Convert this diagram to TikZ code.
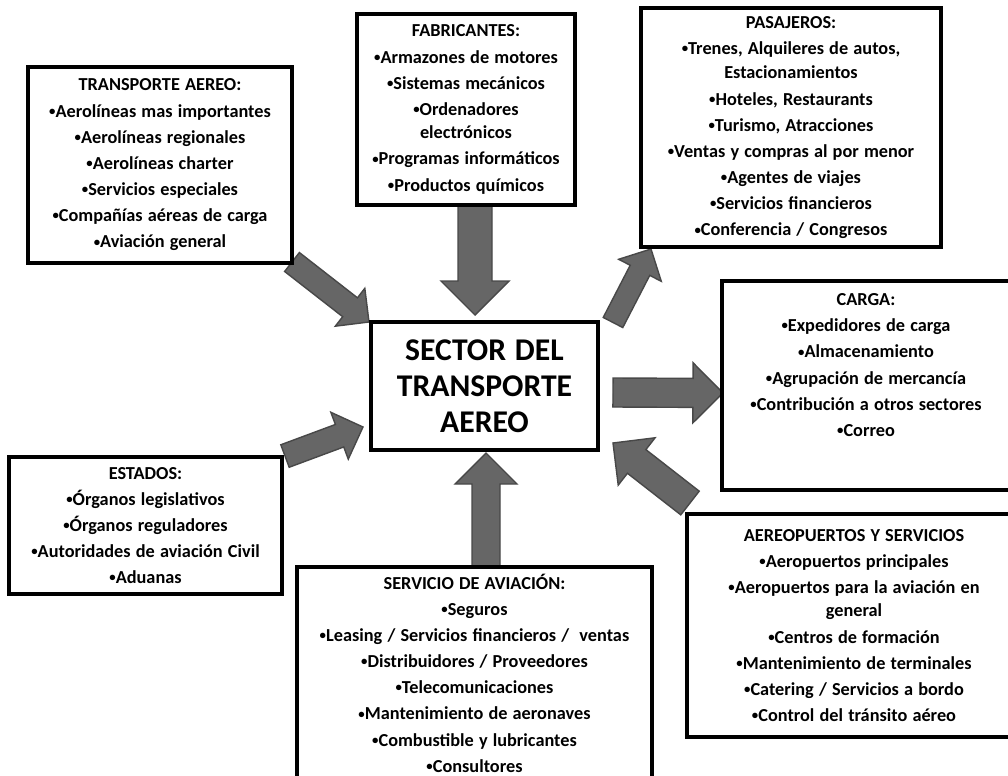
\documentclass[tikz,border=0pt]{standalone}
\usepackage{fontspec}
\usepackage{graphicx}
\setmainfont{Carlito}[WordSpace=1.25]
\usetikzlibrary{calc,backgrounds}
\definecolor{flechagris}{RGB}{102,102,102}
\definecolor{flechaborde}{RGB}{72,72,72}
\newcommand{\px}{0.025cm}
\newcommand{\bul}{\raisebox{0.2ex}{\scalebox{0.7}{\textbullet}}}
% block arrow: tail, tip, half shaft, half head (px)
\newcommand{\flecha}[4]{%
  \coordinate (hb) at ($(#2)!#4*\px!(#1)$);
  \draw[flecha] ($(#1)!#3*\px!90:(#2)$) -- ($(hb)!#3*\px!-90:(#1)$)
    -- ($(hb)!#4*\px!-90:(#1)$) -- (#2) -- ($(hb)!#4*\px!90:(#1)$)
    -- ($(hb)!#3*\px!90:(#1)$) -- ($(#1)!#3*\px!-90:(#2)$) -- cycle;}
\begin{document}
\begin{tikzpicture}[x=\px,y=-\px]
\tikzstyle{caja}=[draw,line width=2.3pt,fill=white,align=center,inner sep=0pt,
  font=\fontsize{13}{18.6}\selectfont\bfseries]
\tikzstyle{flecha}=[fill=flechagris,draw=flechaborde,line width=1pt]
\useasboundingbox (0,0) rectangle (1008,776);
\clip (0,0) rectangle (1008,776);
\node[caja,minimum width=6.6cm,minimum height=4.9cm] at (160,165) (tr)
  {TRANSPORTE AEREO:\\\bul Aerolíneas mas importantes\\\bul Aerolíneas regionales\\
   \bul Aerolíneas charter\\\bul Servicios especiales\\\bul Compañías aéreas de carga\\
   \bul Aviación general};
\node[caja,minimum width=5.45cm,minimum height=4.775cm] at (466,109.5) (fab)
  {FABRICANTES:\\\bul Armazones de motores\\\bul Sistemas mecánicos\\
   \bul Ordenadores\\[-2pt]electrónicos\\\bul Programas informáticos\\\bul Productos químicos};
\node[caja,minimum width=7.5cm,minimum height=5.975cm] at (791,127.5) (pas)
  {PASAJEROS:\\\bul Trenes, Alquileres de autos,\\[-1pt]Estacionamientos\\
   \bul Hoteles, Restaurants\\\bul Turismo, Atracciones\\\bul Ventas y compras al por menor\\
   \bul Agentes de viajes\\\bul Servicios financieros\\\bul Conferencia / Congresos};
\node[caja,minimum width=5.675cm,minimum height=3.2cm,
  font=\fontsize{22.5}{25.5}\selectfont\bfseries] at (484.5,386) (sector)
  {SECTOR DEL\\TRANSPORTE\\AEREO};
\node[caja,minimum width=7.2cm,minimum height=5.225cm] at (866,385.5) (carga) {};
\node[caja,draw=none,fill=none,anchor=north] at (866,292) (cargatxt)
  {CARGA:\\\bul Expedidores de carga\\\bul Almacenamiento\\\bul Agrupación de mercancía\\
   \bul Contribución a otros sectores\\\bul Correo};
\node[caja,minimum width=8.35cm,minimum height=5.575cm] at (854,625.5) (aero)
  {AEREOPUERTOS Y SERVICIOS\\\bul Aeropuertos principales\\
   \bul Aeropuertos para la aviación en\\[-2pt]general\\\bul Centros de formación\\
   \bul Mantenimiento de terminales\\\bul Catering / Servicios a bordo\\
   \bul Control del tránsito aéreo};
\node[caja,minimum width=6.825cm,minimum height=3.425cm] at (145.5,525.5) (est)
  {ESTADOS:\\\bul Órganos legislativos\\\bul Órganos reguladores\\
   \bul Autoridades de aviación Civil\\\bul Aduanas};
\node[caja,minimum width=8.875cm,minimum height=5.3cm] at (474.5,673) (serv)
  {SERVICIO DE AVIACIÓN:\\\bul Seguros\\\bul Leasing / Servicios financieros /~ ventas\\
   \bul Distribuidores / Proveedores\\\bul Telecomunicaciones\\
   \bul Mantenimiento de aeronaves\\\bul Combustible y lubricantes\\\bul Consultores};
% arrow ends
\coordinate (a1) at (292,262);   \coordinate (b1) at (369,322);
\coordinate (a2) at (475,205);   \coordinate (b2) at (475,315);
\coordinate (a3) at (613,322.5); \coordinate (b3) at (651,249);
\coordinate (a4) at (613,392.5); \coordinate (b4) at (723,393);
\coordinate (a5) at (690,503);   \coordinate (b5) at (613,443);
\coordinate (a6) at (285,456);   \coordinate (b6) at (363,427);
\coordinate (a7) at (486,567);   \coordinate (b7) at (486,453);
\begin{scope}[on background layer]
\flecha{a1}{b1}{12}{24}
\flecha{a2}{b2}{17}{34}
\flecha{a3}{b3}{11}{24}
\flecha{a4}{b4}{14.5}{30}
\flecha{a5}{b5}{15}{30}
\flecha{a6}{b6}{12}{25}
\flecha{a7}{b7}{14}{31}
\end{scope}
\end{tikzpicture}
\end{document}
